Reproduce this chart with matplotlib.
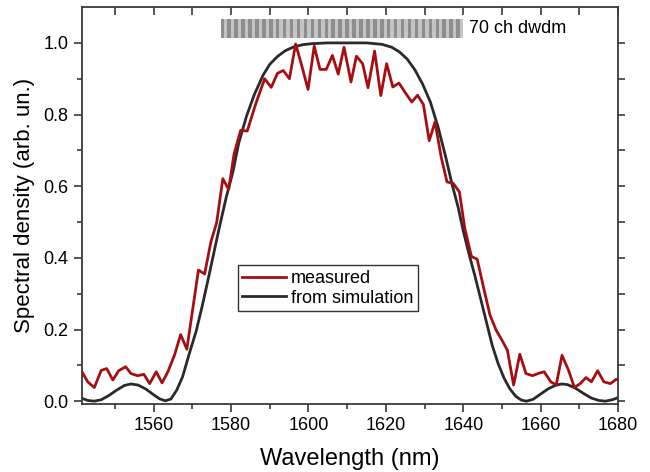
"""Measured vs simulated spectral density with a 70-channel DWDM comb."""

import matplotlib

matplotlib.use("Agg")
import matplotlib.pyplot as plt
import matplotlib.ticker as mticker
import numpy as np

plt.rcParams["font.family"] = ["Liberation Sans", "DejaVu Sans"]

_RED = "#a50f12"
_BLACK = "#2a2a2a"
_SPINE = "#3a3a3a"

# measured spectrum
measured_nm = [
    1541.5, 1543.0, 1544.7, 1546.5, 1547.9, 1549.5, 1551.0, 1552.8, 1554.2, 1555.9,
    1557.5, 1559.0, 1560.7, 1562.2, 1563.7, 1565.4, 1567.0, 1568.6, 1571.6, 1573.2,
    1574.8, 1576.3, 1577.9, 1579.4, 1580.8, 1582.5, 1584.2, 1586.4, 1588.7, 1590.4,
    1592.0, 1593.5, 1595.1, 1596.7, 1598.2, 1599.9, 1601.5, 1603.0, 1604.6, 1606.2,
    1607.7, 1609.2, 1611.0, 1612.4, 1614.0, 1615.4, 1617.1, 1618.7, 1620.2, 1621.8,
    1623.4, 1624.9, 1626.7, 1628.2, 1629.7, 1631.2, 1632.7, 1634.3, 1635.8, 1637.4,
    1639.0, 1640.4, 1642.1, 1643.6, 1645.2, 1646.9, 1648.5, 1650.0, 1651.4, 1653.0,
    1654.6, 1656.2, 1657.9, 1659.5, 1660.9, 1662.6, 1664.0, 1665.5, 1667.2, 1668.7,
    1670.2, 1671.7, 1673.1, 1674.7, 1676.3, 1678.0, 1679.5, 1680.0,
]
measured_val = [
    0.082, 0.054, 0.038, 0.086, 0.091, 0.059, 0.085, 0.096, 0.077, 0.071,
    0.075, 0.049, 0.082, 0.051, 0.082, 0.128, 0.186, 0.145, 0.366, 0.355,
    0.444, 0.498, 0.621, 0.591, 0.690, 0.756, 0.754, 0.830, 0.900, 0.876,
    0.915, 0.923, 0.900, 0.997, 0.940, 0.870, 0.991, 0.926, 0.926, 0.965,
    0.913, 0.988, 0.891, 0.963, 0.942, 0.875, 0.977, 0.853, 0.942, 0.877,
    0.888, 0.863, 0.835, 0.854, 0.828, 0.727, 0.779, 0.681, 0.612, 0.608,
    0.584, 0.482, 0.404, 0.396, 0.319, 0.240, 0.198, 0.170, 0.142, 0.045,
    0.131, 0.077, 0.071, 0.078, 0.082, 0.054, 0.045, 0.128, 0.086, 0.038,
    0.049, 0.066, 0.054, 0.085, 0.054, 0.049, 0.061, 0.060,
]

# simulated spectrum
sim_nm = [
    1541.5, 1543.0, 1544.7, 1546.5, 1548.5, 1550.5, 1552.5, 1554.2, 1556.0, 1558.0,
    1560.0, 1561.5, 1563.0, 1564.5, 1566.0, 1567.5, 1569.3, 1571.0, 1572.5, 1574.0,
    1575.5, 1577.0, 1578.8, 1580.5, 1582.0, 1584.0, 1586.0, 1588.3, 1590.0, 1592.0,
    1594.0, 1596.0, 1598.5, 1601.0, 1605.0, 1610.0, 1615.0, 1619.0, 1621.5, 1623.5,
    1625.5, 1627.5, 1629.5, 1631.5, 1633.5, 1635.5, 1637.0, 1638.7, 1640.0, 1641.5,
    1643.0, 1644.5, 1646.0, 1647.5, 1649.0, 1650.5, 1652.0, 1653.5, 1655.0, 1656.3,
    1658.0, 1660.0, 1662.0, 1664.0, 1665.5, 1667.0, 1669.0, 1671.0, 1673.0, 1675.0,
    1676.7, 1678.5, 1680.0,
]
sim_val = [
    0.008, 0.002, 0.000, 0.004, 0.016, 0.031, 0.044, 0.048, 0.045, 0.034,
    0.018, 0.007, 0.001, 0.006, 0.031, 0.068, 0.135, 0.195, 0.262, 0.335,
    0.410, 0.485, 0.570, 0.640, 0.720, 0.795, 0.855, 0.910, 0.940, 0.962,
    0.978, 0.988, 0.995, 0.998, 1.000, 1.000, 1.000, 0.996, 0.988, 0.975,
    0.955, 0.925, 0.885, 0.835, 0.765, 0.680, 0.610, 0.540, 0.475, 0.410,
    0.350, 0.285, 0.220, 0.155, 0.105, 0.065, 0.035, 0.014, 0.003, 0.000,
    0.005, 0.020, 0.035, 0.045, 0.048, 0.046, 0.036, 0.022, 0.009, 0.002,
    0.000, 0.004, 0.010,
]

# DWDM channel comb
n_channels = 70
comb_start_nm = 1577.3
comb_stop_nm = 1640.0
comb_bottom = 1.013
comb_top = 1.066
comb_colors = ["#8e8e8e", "#c4c4c4"]

fig = plt.figure(figsize=(6.5, 4.72), dpi=100)
ax = fig.add_axes([0.126, 0.144, 0.825, 0.841])

ax.plot(measured_nm, measured_val, color=_RED, linewidth=2.0, label="measured", zorder=3)
ax.plot(sim_nm, sim_val, color=_BLACK, linewidth=2.0, label="from simulation", zorder=2)

edges = np.linspace(comb_start_nm, comb_stop_nm, n_channels + 1)
ax.bar(
    edges[:-1],
    comb_top - comb_bottom,
    width=np.diff(edges),
    bottom=comb_bottom,
    align="edge",
    color=[comb_colors[i % 2] for i in range(n_channels)],
    linewidth=0,
    zorder=1,
)
ax.text(comb_stop_nm + 1.5, (comb_bottom + comb_top) / 2, "70 ch dwdm",
        fontsize=13, va="center", ha="left")

ax.set_xlim(1541.5, 1680)
ax.set_ylim(-0.008, 1.1)

ax.xaxis.set_major_locator(mticker.MultipleLocator(20))
ax.xaxis.set_minor_locator(mticker.MultipleLocator(10))
ax.yaxis.set_major_locator(mticker.FixedLocator([0.0, 0.2, 0.4, 0.6, 0.8, 1.0]))
ax.yaxis.set_minor_locator(mticker.FixedLocator([0.1, 0.3, 0.5, 0.7, 0.9]))
ax.yaxis.set_major_formatter(mticker.FormatStrFormatter("%.1f"))

ax.tick_params(which="both", direction="out", top=False, right=False,
               colors=_SPINE, labelcolor="black", labelsize=13, width=1.2)
ax.tick_params(which="major", length=6)
ax.tick_params(which="minor", length=3.5)

for side in ax.spines.values():
    side.set_color(_SPINE)
    side.set_linewidth(1.3)

top = ax.secondary_xaxis("top")
top.set_xticks(np.arange(1550, 1681, 10))
top.tick_params(direction="in", length=5.5, width=1.2, colors=_SPINE, labeltop=False)
top.spines["top"].set_visible(False)

right = ax.secondary_yaxis("right")
right.set_yticks(np.arange(0.0, 1.01, 0.1))
right.tick_params(direction="out", length=5, width=1.2, colors=_SPINE, labelright=False)
right.spines["right"].set_visible(False)

ax.set_xlabel("Wavelength (nm)", fontsize=17, labelpad=10)
ax.set_ylabel("Spectral density (arb. un.)", fontsize=16, labelpad=6)

leg = ax.legend(
    loc="lower left",
    bbox_to_anchor=(0.291, 0.234),
    borderaxespad=0,
    fontsize=13,
    frameon=True,
    fancybox=False,
    handlelength=2.4,
    handletextpad=0.3,
    borderpad=0.25,
    labelspacing=0.15,
)
leg.get_frame().set_edgecolor("black")
leg.get_frame().set_linewidth(1.0)

fig.savefig("out.png", dpi=100)
